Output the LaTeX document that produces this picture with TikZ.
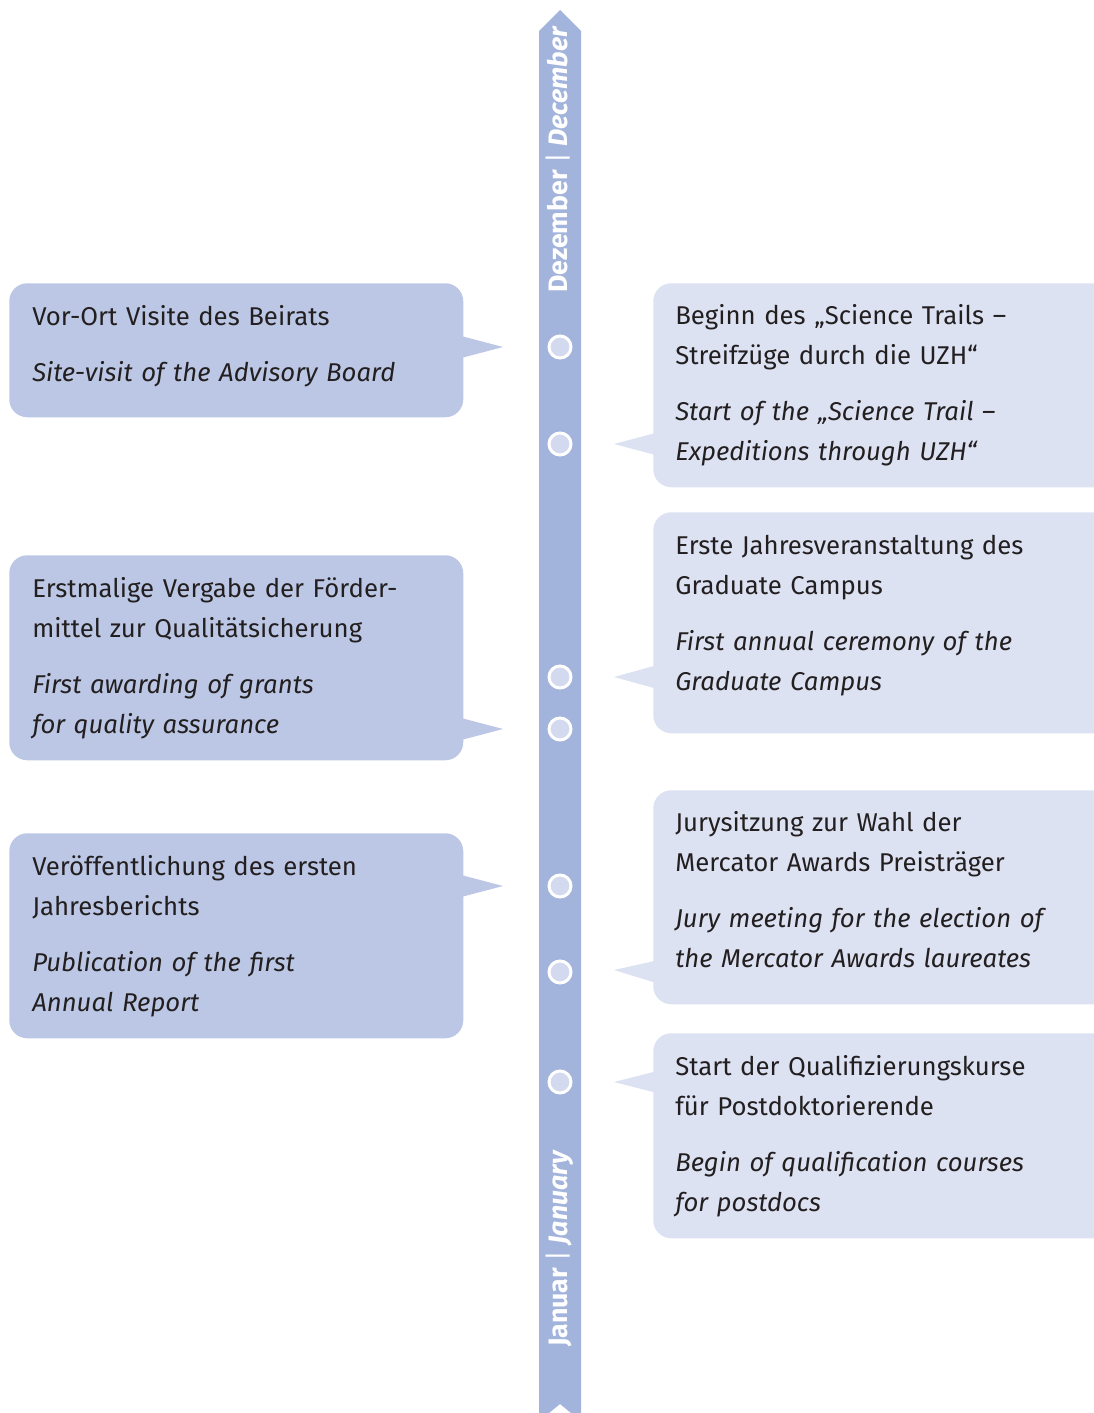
\documentclass[tikz,border=0pt]{standalone}
\usepackage{fontspec}
\setmainfont{Fira Sans}
\usetikzlibrary{calc}

\definecolor{barblue}{HTML}{A3B4DC}
\definecolor{leftblue}{HTML}{BBC7E4}
\definecolor{rightblue}{HTML}{DCE2F2}
\definecolor{dotblue}{HTML}{D3D9EE}
\definecolor{ink}{HTML}{231F20}

\begin{document}
\begin{tikzpicture}[
    x=0.75pt,
    y=-0.75pt,
    bar/.style={
        fill=barblue
    },
    bartext/.style={
        rotate=90,
        text=white,
        inner sep=0pt,
        font=\bfseries\fontsize{20}{20}\selectfont
    },
    dot/.style={
        circle,
        fill=dotblue,
        draw=white,
        line width=2.25pt,
        minimum size=16.5pt,
        inner sep=0pt
    },
    leftbox/.style={
        fill=leftblue,
        rounded corners=13.5pt,
        anchor=north west,
        align=left,
        text=ink,
        text width=306pt,
        inner xsep=17.25pt,
        inner ysep=0pt,
        font=\fontsize{19.3}{30}\selectfont
    },
    rightbox/.style={
        fill=rightblue,
        rounded corners=13.5pt,
        anchor=north west,
        align=left,
        text=ink,
        text width=312.75pt,
        inner xsep=16.5pt,
        inner ysep=0pt,
        font=\fontsize{19.3}{30}\selectfont
    }
]

% -------------------------------------------------
% Параметры изображения
% -------------------------------------------------

\def\W{1094}    % ширина картинки
\def\H{1413}    % высота картинки
\def\xm{560}    % ось ленты
\def\b{21}      % полуширина ленты

\clip (0,0) rectangle (\W,\H);

% -------------------------------------------------
% Лента времени
% -------------------------------------------------

\fill[bar]
    (\xm-\b,\H) -- (\xm-\b,31) -- (\xm,10) -- (\xm+\b,31)
    -- (\xm+\b,\H) -- (\xm+11,\H) -- (\xm,1404) -- (\xm-11,\H)
    -- cycle;

\node[bartext, anchor=base west] (dec) at (567,293)
    {Dezember {\mdseries|} \textit{December}};
\node[bartext, anchor=base west] (jan) at (567,1347)
    {Januar {\mdseries|} \textit{January}};

% -------------------------------------------------
% Левые пузыри
% -------------------------------------------------

\node[leftbox, minimum height=100.5pt] (l1) at (9,283)
    {Vor-Ort Visite des Beirats\\[12pt]
     {\itshape Site-visit of the Advisory Board}\par\vspace{6pt}};

\node[leftbox, minimum height=153.75pt] (l2) at (9,555)
    {Erstmalige Vergabe der Förder-\\
     mittel zur Qualitätsicherung\\[12pt]
     {\itshape First awarding of grants\\
     for quality assurance}};

\node[leftbox, minimum height=153.75pt] (l3) at (9,833)
    {Veröffentlichung des ersten\\
     Jahresberichts\\[12pt]
     {\itshape Publication of the first\\
     Annual Report}};

% -------------------------------------------------
% Правые пузыри
% -------------------------------------------------

\node[rightbox, minimum height=153pt] (r1) at (653,283)
    {Beginn des „Science Trails –\\
     Streifzüge durch die UZH“\\[12pt]
     {\itshape Start of the „Science Trail –\\
     Expeditions through UZH“}};

\node[rightbox, minimum height=165.75pt] (r2) at (653,512)
    {Erste Jahresveranstaltung des\\
     Graduate Campus\\[12pt]
     {\itshape First annual ceremony of the\\
     Graduate Campus}\par\vspace{11pt}};

\node[rightbox, minimum height=160.5pt] (r3) at (653,790)
    {Jurysitzung zur Wahl der\\
     Mercator Awards Preisträger\\[12pt]
     {\itshape Jury meeting for the election of\\
     the Mercator Awards laureates}\par\vspace{11pt}};

\node[rightbox, minimum height=153.75pt] (r4) at (653,1033)
    {Start der Qualifizierungskurse\\
     für Postdoktorierende\\[12pt]
     {\itshape Begin of qualification courses\\
     for postdocs}};

% -------------------------------------------------
% Точки на ленте
% -------------------------------------------------

\node[dot] (c1) at (\xm,347) {};
\node[dot] (c2) at (\xm,444) {};
\node[dot] (c3) at (\xm,677) {};
\node[dot] (c4) at (\xm,729) {};
\node[dot] (c5) at (\xm,886) {};
\node[dot] (c6) at (\xm,972) {};
\node[dot] (c7) at (\xm,1082) {};

% -------------------------------------------------
% Указатели пузырей
% -------------------------------------------------

% Слева: к точкам 1, 4, 5
\fill[leftblue]
    ($(l1.east |- c1)+(-8,-12.5)$) -- ($(c1)+(-57,0)$)
    -- ($(l1.east |- c1)+(-8,12.5)$) -- cycle;
\fill[leftblue]
    ($(l2.east |- c4)+(-8,-12.5)$) -- ($(c4)+(-57,0)$)
    -- ($(l2.east |- c4)+(-8,12.5)$) -- cycle;
\fill[leftblue]
    ($(l3.east |- c5)+(-8,-12.5)$) -- ($(c5)+(-57,0)$)
    -- ($(l3.east |- c5)+(-8,12.5)$) -- cycle;

% Справа: к точкам 2, 3, 6, 7
\fill[rightblue]
    ($(r1.west |- c2)+(8,-12.5)$) -- ($(c2)+(54,0)$)
    -- ($(r1.west |- c2)+(8,12.5)$) -- cycle;
\fill[rightblue]
    ($(r2.west |- c3)+(8,-13)$) -- ($(c3)+(54,0)$)
    -- ($(r2.west |- c3)+(8,13)$) -- cycle;
\fill[rightblue]
    ($(r3.west |- c6)+(8,-12.5)$) -- ($(c6)+(54,-2)$)
    -- ($(r3.west |- c6)+(8,12.5)$) -- cycle;
\fill[rightblue]
    ($(r4.west |- c7)+(8,-12)$) -- ($(c7)+(54,0)$)
    -- ($(r4.west |- c7)+(8,12)$) -- cycle;

\end{tikzpicture}
\end{document}
